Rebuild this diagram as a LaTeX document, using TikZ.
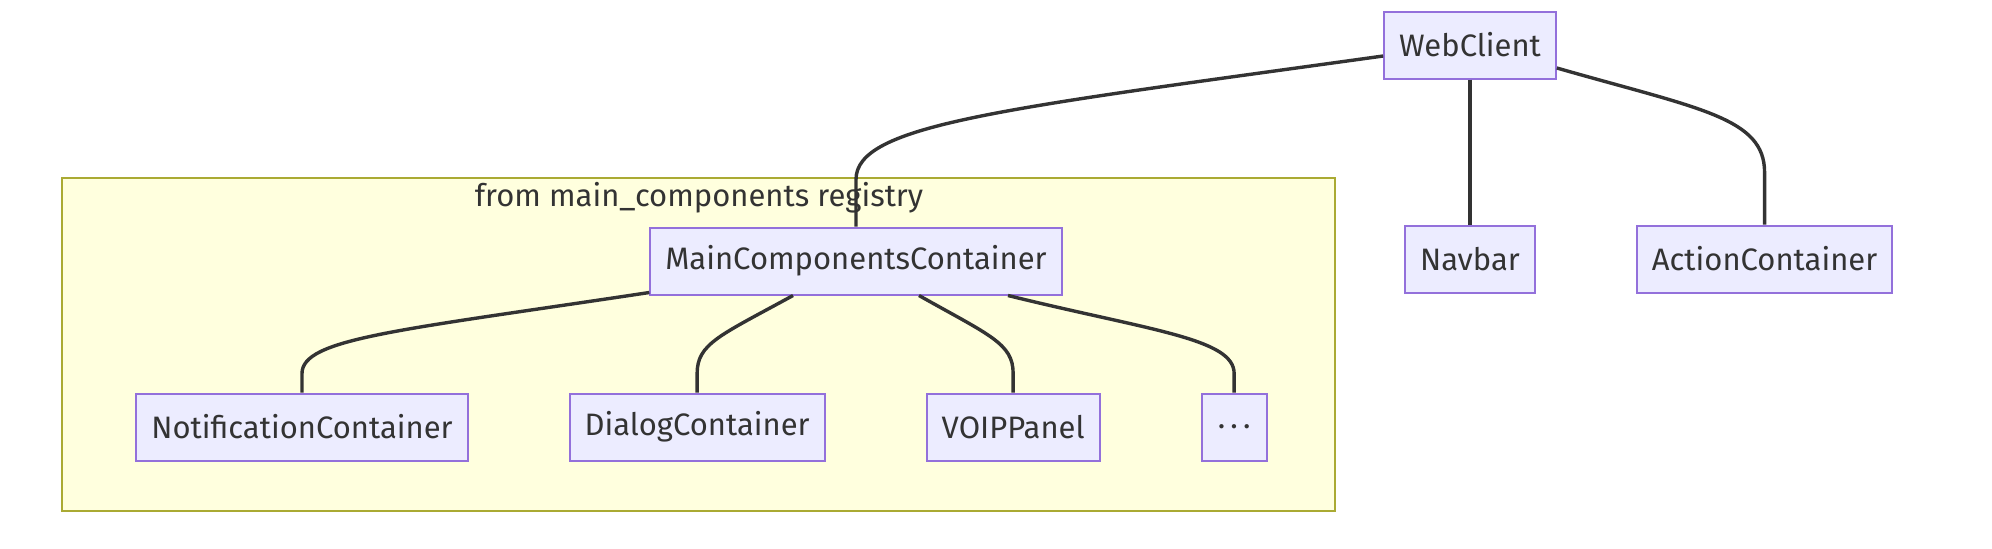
\documentclass[tikz,border=0pt]{standalone}
\usepackage{fontspec}
\setmainfont{Fira Sans}
\usetikzlibrary{positioning,calc}
\definecolor{boxfill}{HTML}{ECECFF}
\definecolor{boxline}{HTML}{9370DB}
\definecolor{groupfill}{HTML}{FFFFDE}
\definecolor{groupline}{HTML}{AAAA33}
\definecolor{ink}{HTML}{333333}

\begin{document}
\begin{tikzpicture}[x=0.5pt, y=-0.5pt, node distance=50pt, every node/.style={font=\fontsize{15.5}{19}\selectfont, text=ink}]
\tikzstyle{comp}=[rectangle, draw=boxline, line width=1pt, fill=boxfill, inner xsep=7.5pt, minimum height=33.5pt]
\tikzstyle{link}=[draw=ink, line width=1.7pt]
\useasboundingbox (0,0) rectangle (1992,548);

% Registry group
\node[draw=groupline, fill=groupfill, line width=1pt, minimum width=636.5pt, minimum height=166.5pt, inner sep=0pt] (reg) at (698.5,344.5) {};
\node (regtitle) at (699,198) {from main\_components registry};

% Top row
\node[comp] (wc) at (1470,45) {WebClient};
\node[comp, below=72.5pt of wc] (nav) {Navbar};
\node[comp, right=of nav] (act) {ActionContainer};
\node[comp] (mcc) at (856,261) {MainComponentsContainer};

% Children of the registry
\node[comp] (notif) at (302,427) {NotificationContainer};
\node[comp, right=of notif] (dlg) {DialogContainer};
\node[comp, right=of dlg] (voip) {VOIPPanel};
\node[comp, right=of voip, minimum width=32.5pt] (more) {.\,.\,.};

% Edges
\draw[link] ($(wc.west)+(0,11)$) .. controls +(-382,53) and +(0,-55) .. ($(mcc.north)+(0,-47)$) -- (mcc.north);
\draw[link] (wc) -- (nav);
\draw[link] ($(wc.east)+(0,23)$) .. controls +(143,41) and +(0,-55) .. ($(act.north)+(0,-52)$) -- (act.north);
\draw[link] ($(mcc.south west)+(0,-3)$) .. controls +(-252,38) and +(0,-35) .. ($(notif.north)+(0,-19)$) -- (notif.north);
\draw[link] ($(mcc.south)+(-63,0)$) .. controls +(-73,40) and +(0,-30) .. ($(dlg.north)+(0,-19)$) -- (dlg.north);
\draw[link] ($(mcc.south)+(63,0)$) .. controls +(71,40) and +(0,-30) .. ($(voip.north)+(0,-19)$) -- (voip.north);
\draw[link] ($(mcc.south)+(152,0)$) .. controls +(142,35) and +(0,-35) .. ($(more.north)+(0,-19)$) -- (more.north);
\end{tikzpicture}
\end{document}
